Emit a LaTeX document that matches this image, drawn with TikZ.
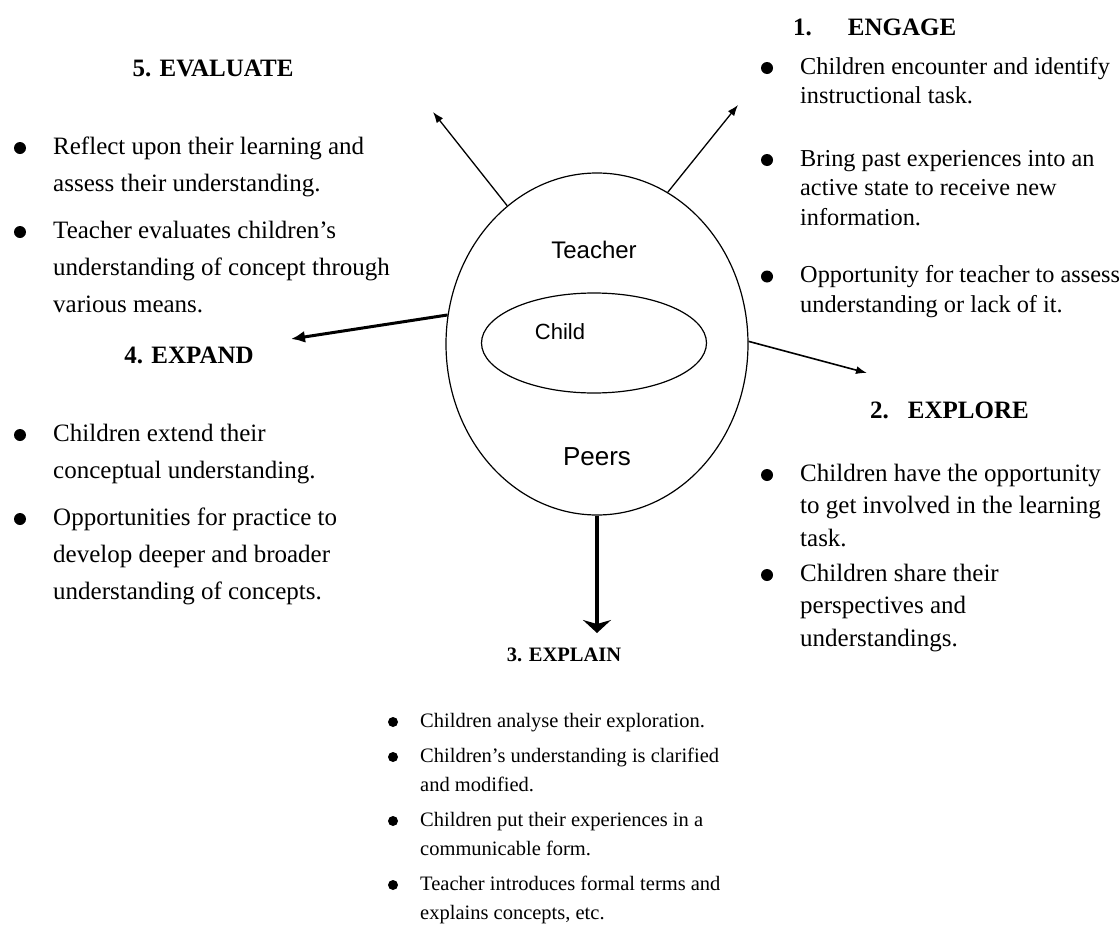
\documentclass[tikz,border=0pt]{standalone}
\usepackage{fontspec}
\setmainfont{Liberation Serif}
\setsansfont{Liberation Sans}
\usetikzlibrary{shapes.geometric,arrows.meta}

\tikzset{
  head/.style={font=\bfseries\fontsize{25}{30}\selectfont,inner sep=0pt},
  body/.style={align=left,anchor=north west,inner sep=0pt},
  dot/.style={circle,fill=black,inner sep=0pt,minimum size=12pt},
  who/.style={font=\sffamily,inner sep=0pt},
  thinarrow/.style={-{Latex[length=11pt,width=8pt]},line width=1.3pt},
}

\begin{document}
\begin{tikzpicture}[x=1pt,y=-1pt]
  \useasboundingbox (0,0) rectangle (1120,929);

  % teacher / child / peers
  \node[ellipse,draw,line width=1.2pt,minimum width=302pt,minimum height=342pt,inner sep=0pt] (outer) at (597,344) {};
  \node[ellipse,draw,line width=1.2pt,minimum width=225pt,minimum height=100pt,inner sep=0pt] (inner) at (594,343) {};
  \node[who,font=\sffamily\fontsize{24}{28}\selectfont] (teacher) at (594,250) {Teacher};
  \node[who,font=\sffamily\fontsize{22}{26}\selectfont] (child) at (560,332) {Child};
  \node[who,font=\sffamily\fontsize{26}{30}\selectfont] (peers) at (597,457) {Peers};

  % headings
  \node[head] (evaluate) at (213,68) {5. EVALUATE};
  \node[head] (expand) at (189,355) {4. EXPAND};
  \node[head,anchor=west] (engage) at (793,27) {1.\hspace{36pt}ENGAGE};
  \node[head,anchor=west] (explore) at (870,410) {2.\hspace{19pt}EXPLORE};
  \node[head,font=\bfseries\fontsize{20.5}{24}\selectfont] (explain) at (564,655) {3. EXPLAIN};

  % bullet texts
  \begin{scope}[every node/.style={body,font=\fontsize{25}{37}\selectfont}]
    \node (evaltxt) at (53,136.6) {Reflect upon their learning and\\assess their understanding.\\[10pt]
      Teacher evaluates children’s\\understanding of concept through\\various means.};
    \node (expandtxt) at (53,423.6) {Children extend their\\conceptual understanding.\\[10pt]
      Opportunities for practice to\\develop deeper and broader\\understanding of concepts.};
  \end{scope}
  \node[body,font=\fontsize{24.3}{29.5}\selectfont] (engagetxt) at (800,57) {Children encounter and identify\\instructional task.\\[33pt]
    Bring past experiences into an\\active state to receive new\\information.\\[28pt]
    Opportunity for teacher to assess\\understanding or lack of it.};
  \node[body,font=\fontsize{25}{32.5}\selectfont] (exploretxt) at (800,463.6) {Children have the opportunity\\to get involved in the learning\\task.\\[2.5pt]
    Children share their\\perspectives and\\understandings.};
  \node[body,font=\fontsize{20.5}{29}\selectfont] (explaintxt) at (420,712.6) {Children analyse their exploration.\\[6pt]
    Children’s understanding is clarified\\and modified.\\[6pt]
    Children put their experiences in a\\communicable form.\\[6pt]
    Teacher introduces formal terms and\\explains concepts, etc.};

  % bullets
  \foreach \y [count=\i] in {148,232,435,519} \node[dot] (dl\i) at (20,\y) {};
  \foreach \y [count=\i] in {68,160,276.5,475,575} \node[dot] (dr\i) at (767,\y) {};
  \foreach \y [count=\i] in {722,757,821,885} \node[dot,minimum size=10pt] (db\i) at (393,\y) {};

  % arrows
  \coordinate (evalend) at (433,112);
  \coordinate (engageend) at (738,105);
  \coordinate (expandend) at (291,339);
  \coordinate (exploreend) at (867,373);
  \coordinate (explainend) at (597,633);
  \draw[thinarrow] (outer.123.5) -- (evalend);
  \draw[thinarrow] (outer.65.6) -- (engageend);
  \draw[thinarrow,line width=1.6pt] (outer.1) -- (exploreend);
  \draw[-{Latex[length=14pt,width=12pt]},line width=3pt] (outer.169) -- (expandend);
  \draw[-{Stealth[length=13pt,width=28pt,inset=4pt]},line width=4.5pt] (outer.270) -- (explainend);
\end{tikzpicture}
\end{document}
